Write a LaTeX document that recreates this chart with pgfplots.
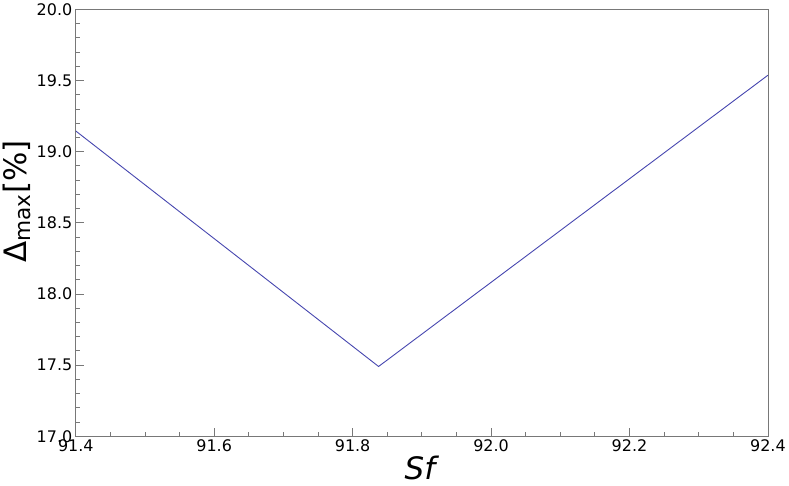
\documentclass[border=0pt]{standalone}
\usepackage{fontspec}
\setmainfont{DejaVu Sans}
\usepackage{pgfplots}
\pgfplotsset{compat=1.18}
\definecolor{linecol}{RGB}{70,70,175}
\definecolor{axcol}{RGB}{120,120,120}
\begin{document}
\begin{tikzpicture}
\begin{axis}[
    scale only axis,
    width=694pt, height=428pt,
    xmin=91.4, xmax=92.4,
    ymin=17.0, ymax=20.0,
    xtick={91.4,91.6,91.8,92.0,92.2,92.4},
    ytick={17.0,17.5,18.0,18.5,19.0,19.5,20.0},
    minor x tick num=3,
    minor y tick num=4,
    tick pos=left,
    tick align=inside,
    major tick length=8pt,
    minor tick length=4pt,
    axis line style={axcol, line width=0.8pt},
    every tick/.style={axcol, line width=0.8pt},
    tick label style={font=\fontsize{16}{19}\selectfont, text=black},
    /pgf/number format/assume math mode=true,
    /pgf/number format/.cd, fixed, fixed zerofill, precision=1,
    /pgfplots/.cd,
    xlabel={\textit{Sf}},
    ylabel={Δ\textsubscript{max}[\%]},
    label style={font=\fontsize{31}{35}\selectfont},
    xlabel style={yshift=3pt},
    ylabel style={at={(ticklabel cs:0.55)}, anchor=near ticklabel, yshift=-1pt},
]
\addplot[color=linecol, line width=0.9pt, mark=none] coordinates {
(91.4,19.145)
(91.8375,17.49)
(92.4,19.537)
};
\end{axis}
\path (current bounding box.south) ++(0,-3pt);
\end{tikzpicture}
\end{document}
